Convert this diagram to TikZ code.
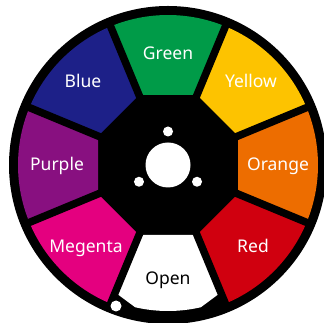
\documentclass[tikz,border=0pt]{standalone}
\usepackage{fontspec}
\setmainfont{Noto Sans}
\definecolor{cgreen}{RGB}{0,155,72}
\definecolor{cyellow}{RGB}{253,195,0}
\definecolor{corange}{RGB}{237,109,0}
\definecolor{cred}{RGB}{208,0,15}
\definecolor{cmagenta}{RGB}{228,0,127}
\definecolor{cpurple}{RGB}{136,16,128}
\definecolor{cblue}{RGB}{29,32,136}
\tikzset{
  lab/.style={anchor=base, text=white, font=\fontsize{17.5}{20}\selectfont, inner sep=0pt},
  gapline/.style={line width=7.5pt, black},
}
\begin{document}
\begin{tikzpicture}[x=1pt,y=1pt]
\useasboundingbox (0,0) rectangle (323,323);
\fill[white] (0,0) rectangle (323,323);
\coordinate (C) at (168,158);
\fill[black] (C) circle[radius=159];
\begin{scope}[shift={(168,158)}]
  \foreach \ang/\col in {90/cgreen,45/cyellow,0/corange,-45/cred,225/cmagenta,180/cpurple,135/cblue}{
    \fill[\col] ({\ang-22.5}:75.77) -- ({\ang+22.5}:75.77) -- ({\ang+22.5}:150)
      arc[start angle={\ang+22.5}, end angle={\ang-22.5}, radius=150] -- cycle;
  }
  \fill[white] (247.5:75.77) -- (292.5:75.77) -- (292.5:138) -- (283:146)
    arc[start angle=283, end angle=257, radius=146] -- (247.5:138) -- cycle;
  \foreach \b in {22.5,67.5,112.5,157.5,202.5,247.5,292.5,337.5}{
    \draw[gapline] (0,0) -- (\b:155);
  }
\end{scope}
\fill[white] (C) circle[radius=22.5];
\fill[white] ([shift={(90:33.5)}]C) circle[radius=5];
\fill[white] ([shift={(210:33.5)}]C) circle[radius=5];
\fill[white] ([shift={(330:33.5)}]C) circle[radius=5];
\coordinate (D) at (116,17);
\fill[white] (D) circle[radius=5.5];
\node[lab] (green) at (168,263) {Green};
\node[lab] (yellow) at (251,235) {Yellow};
\node[lab] (orange) at (278,152) {Orange};
\node[lab] (red) at (253,70) {Red};
\node[lab] (magenta) at (86,70) {Megenta};
\node[lab] (purple) at (57,152) {Purple};
\node[lab] (blue) at (83,235) {Blue};
\node[lab, text=black] (open) at (168,38) {Open};
\end{tikzpicture}
\end{document}
